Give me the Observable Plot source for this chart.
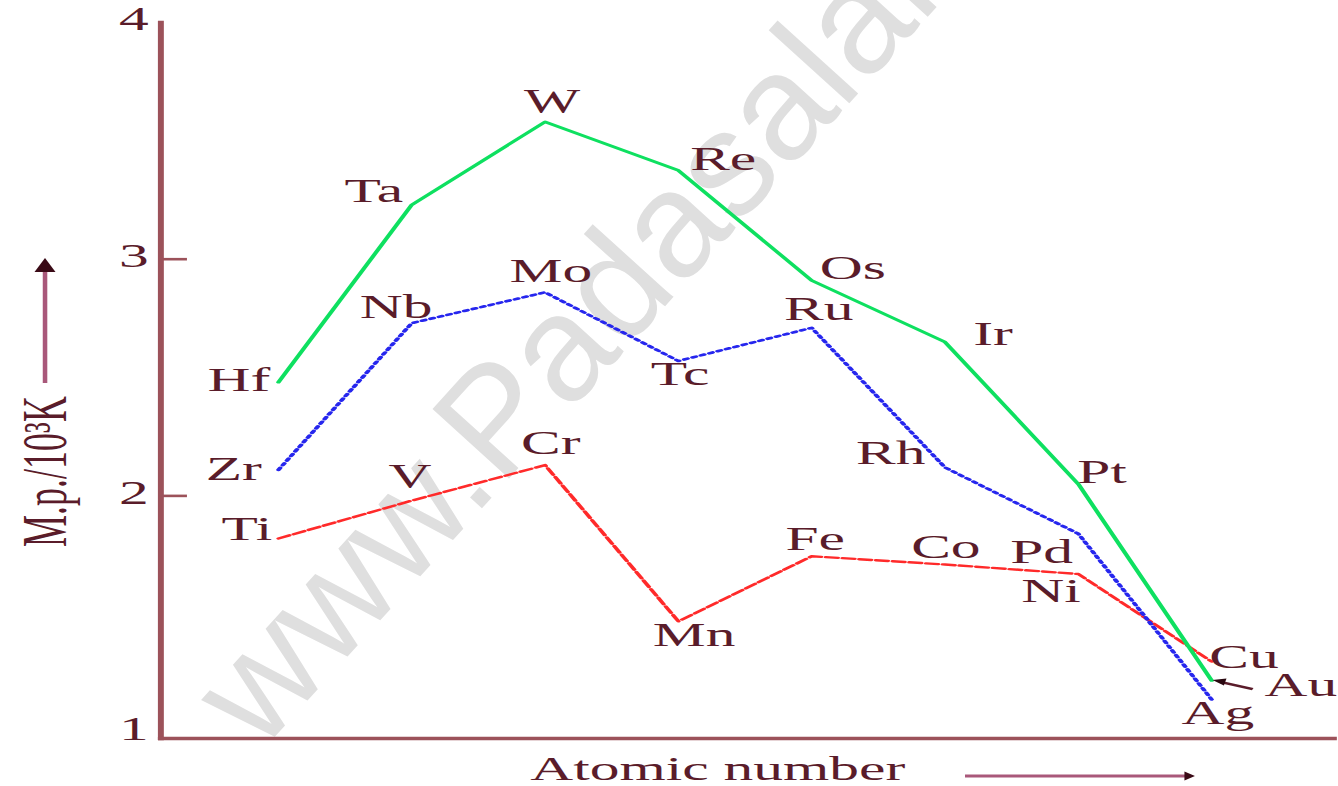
<!DOCTYPE html>
<html>
<head>
<meta charset="utf-8">
<script src="https://cdn.jsdelivr.net/npm/d3@7"></script>
<script src="https://cdn.jsdelivr.net/npm/@observablehq/plot@0.6"></script>
<style>
  html, body { margin: 0; padding: 0; background: #fff; }
  #wrap { position: relative; width: 1338px; height: 786px; overflow: hidden; }
  #wrap > svg { position: absolute; left: 0; top: 0; }
</style>
</head>
<body>
<div id="wrap"></div>
<script>
// Melting points of the transition metals (10^3 K), by group 4 to 11
const groups = [4, 5, 6, 7, 8, 9, 10, 11];
const elements3d = ["Ti", "V", "Cr", "Mn", "Fe", "Co", "Ni", "Cu"];
const elements4d = ["Zr", "Nb", "Mo", "Tc", "Ru", "Rh", "Pd", "Ag"];
const elements5d = ["Hf", "Ta", "W", "Re", "Os", "Ir", "Pt", "Au"];
const mp3d = [1.82, 1.98, 2.13, 1.47, 1.745, 1.71, 1.67, 1.30];
const mp4d = [2.11, 2.73, 2.86, 2.57, 2.71, 2.12, 1.84, 1.14];
const mp5d = [2.48, 3.23, 3.58, 3.375, 2.91, 2.65, 2.05, 1.22];
const yTicks = [1, 2, 3, 4];
const innerTicks = [2, 3];

// Label placement around each point (screen units)
const labelOffset = {
  Hf: [-22.6, -2], Zr: [-25.5, -1], Ti: [-18, -9],
  Ta: [-21.7, -14], Nb: [-9, -16], V: [-1, -25],
  W: [4, -21], Mo: [3.3, -21], Cr: [3.3, -22],
  Re: [25.6, -11], Tc: [1, 13], Mn: [9, 14],
  Os: [23.5, -12], Ru: [4, -19], Fe: [2, -17],
  Ir: [27.4, -8], Rh: [-31, -14], Co: [0.5, -17],
  Pt: [13.5, -12], Pd: [-21, 18], Ni: [-15.6, 17],
  Cu: [18.5, -4], Au: [51, 5], Ag: [3.6, 14]
};

const S = 1.75;            // the finished drawing is widened by this factor
const W = 1338 / S, H = 786;
const INK = "#5a1c2a", AXIS = "#9c525a", ARROW = "#a9587a";

const toRows = (els, mps) => groups.map((g, i) => ({group: g, el: els[i], mp: mps[i]}));
const rows3d = toRows(elements3d, mp3d);
const rows4d = toRows(elements4d, mp4d);
const rows5d = toRows(elements5d, mp5d);

// faint site mark behind the chart
const wrap = d3.select("#wrap");
const bg = wrap.append("svg").attr("width", 1338).attr("height", 786);
bg.append("text")
  .attr("transform", "translate(260,753) rotate(-47.8)")
  .attr("font-family", "'Liberation Sans', Arial, sans-serif")
  .attr("font-size", 150)
  .attr("fill", "#dfdfdf")
  .text("www.Padasalai.Net");

// axis-title arrows and the pointer beside Au
function decorations(index, scales, values, dims) {
  const g = d3.create("svg:g");
  const left = dims.marginLeft, top = dims.marginTop, bottom = dims.height - dims.marginBottom;
  // x title arrow
  const ax0 = left + 460, ax1 = left + 591.4, ay = bottom + 38;
  g.append("line").attr("x1", ax0).attr("x2", ax1 - 4).attr("y1", ay).attr("y2", ay)
    .attr("stroke", ARROW).attr("stroke-width", 3);
  g.append("path").attr("d", `M${ax1},${ay}L${ax1 - 6},${ay - 4.5}L${ax1 - 6},${ay + 4.5}Z`).attr("fill", "#3a0a16");
  // y title arrow
  const bx = left - 65.7, by0 = top + 361, by1 = top + 236;
  g.append("line").attr("x1", bx).attr("x2", bx).attr("y1", by0).attr("y2", by1 + 10)
    .attr("stroke", ARROW).attr("stroke-width", 2.6);
  g.append("path").attr("d", `M${bx},${by1}L${bx - 6},${by1 + 14}L${bx + 6},${by1 + 14}Z`).attr("fill", "#3a0a16");
  // pointer to Au
  const px = scales.x(groups[7]) + 1, py = scales.y(mp5d[7]);
  g.append("line").attr("x1", px + 5).attr("y1", py + 2).attr("x2", px + 23).attr("y2", py + 9)
    .attr("stroke", INK).attr("stroke-width", 2.4);
  g.append("path").attr("d", `M${px},${py}L${px + 8},${py - 1.5}L${px + 6.5},${py + 5.5}Z`).attr("fill", "#2a0810");
  return g.node();
}

const labelMarks = [...rows3d, ...rows4d, ...rows5d].map(d =>
  Plot.text([d], {
    x: "group", y: "mp", text: "el",
    dx: labelOffset[d.el][0], dy: labelOffset[d.el][1],
    fontSize: 34, fill: INK, lineAnchor: "middle"
  })
);

const chart = Plot.plot({
  width: W,
  height: H,
  marginLeft: 160 / S,
  marginRight: (1338 - 1333) / S,
  marginTop: 22,
  marginBottom: 48,
  style: {background: "transparent", fontFamily: "'Liberation Serif', 'Times New Roman', serif", color: INK, overflow: "visible"},
  x: {domain: [3.118, 11.917], axis: null},
  y: {domain: [0.975, 4], axis: null},
  marks: [
    // inward tick marks
    Plot.axisY(innerTicks, {tickSize: 15.4, dx: 15.4, tickFormat: () => "", label: null, stroke: AXIS, strokeWidth: 2.6}),
    // tick labels
    Plot.axisY(yTicks, {tickSize: 0, tickPadding: 7, dy: -3, fontSize: 34, label: null, fill: INK, tickFormat: d => String(d)}),
    Plot.frame({anchor: "left", stroke: AXIS, strokeWidth: 3.4}),
    Plot.frame({anchor: "bottom", stroke: AXIS, strokeWidth: 3.4}),
    Plot.line(rows3d, {x: "group", y: "mp", stroke: "#ff2a2a", strokeWidth: 2.4, strokeDasharray: "7,2.6"}),
    Plot.line(rows4d, {x: "group", y: "mp", stroke: "#2626ee", strokeWidth: 2.6, strokeDasharray: "2.2,3"}),
    Plot.line(rows5d, {x: "group", y: "mp", stroke: "#0ee060", strokeWidth: 2.6}),
    ...labelMarks,
    Plot.text(["Atomic number"], {frameAnchor: "bottom", dx: -16.9, dy: 31, lineAnchor: "middle", fontSize: 34, fill: INK}),
    Plot.text(["M.p./10³K"], {frameAnchor: "left", textAnchor: "middle", rotate: -90, dx: -65.7, dy: 91, lineAnchor: "middle", fontSize: 36, fill: INK}),
    decorations
  ]
});

chart.setAttribute("width", 1338);
chart.setAttribute("height", 786);
chart.setAttribute("preserveAspectRatio", "none");
chart.style.width = "1338px";
chart.style.height = "786px";
chart.style.maxWidth = "none";
wrap.node().appendChild(chart);
</script>
</body>
</html>
